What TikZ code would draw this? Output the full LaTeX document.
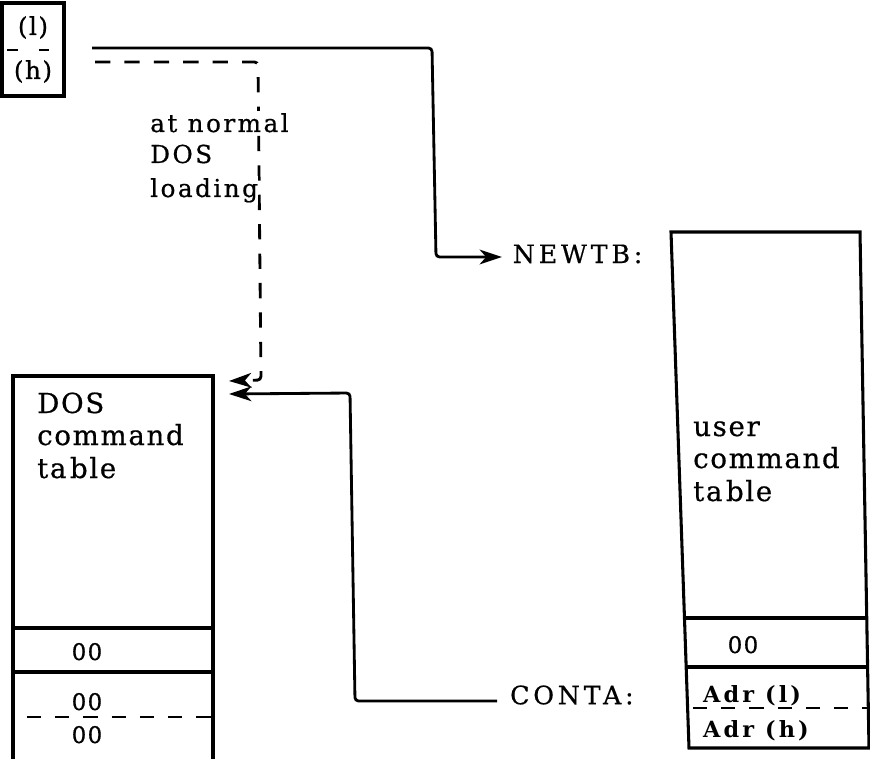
\documentclass[tikz,border=0pt]{standalone}
\usepackage{fontspec}
\setmainfont[LetterSpace=6,FakeBold=0.6]{DejaVu Serif}
\newfontfamily\smallf[LetterSpace=10,FakeBold=0.6]{DejaVu Serif}
\newfontfamily\labf[LetterSpace=15,FakeBold=0.6]{DejaVu Serif}
\newfontfamily\adrf[LetterSpace=14]{DejaVu Serif Bold}
\usetikzlibrary{arrows.meta}
\tikzset{
  line/.style={line width=2.6pt},
  conn/.style={line width=2.4pt, rounded corners=3pt, -{Stealth[length=19pt,width=12.5pt,inset=5.5pt]}},
  dashconn/.style={conn, dash pattern=on 13pt off 12pt},
  dashline/.style={line width=1.8pt, dash pattern=on 12pt off 12pt},
  txt/.style={inner sep=0pt, anchor=base west, font=\fontsize{23.5}{26}\selectfont},
  smalltxt/.style={inner sep=0pt, anchor=base west, font=\smallf\fontsize{21}{24}\selectfont, fill=white, inner ysep=2pt},
  num/.style={inner sep=0pt, anchor=base, font=\fontsize{19.5}{22}\selectfont},
  adr/.style={inner sep=0pt, anchor=base west, font=\adrf\fontsize{19}{22}\selectfont},
  label/.style={inner ysep=0pt, anchor=west, font=\labf\fontsize{21.5}{24}\selectfont}
}
\begin{document}
\begin{tikzpicture}[x=0.85pt,y=-0.85pt]
\useasboundingbox (0,0) rectangle (870,759);

% pointer box (l)/(h)
\draw[line] (2,3) rectangle (64,96);
\draw[line width=1.8pt, dash pattern=on 9pt off 18pt] (7,50) -- (53,50);
\node[num, font=\fontsize{21}{24}\selectfont] (lo) at (33,35) {(l)};
\node[num, font=\fontsize{21}{24}\selectfont] (hi) at (33,79) {(h)};

% DOS command table (left)
\draw[line] (13,376) rectangle (213,770);
\draw[line] (13,628) -- (213,628);
\draw[line] (13,672) -- (213,672);
\draw[dashline] (27,717) -- (212,717);
\node[txt] (d1) at (37,413) {DOS};
\node[txt] (d2) at (37,445) {command};
\node[txt] (d3) at (37,478) {ta\hspace{3pt}ble};
\node[num] (dz1) at (87,660) {00};
\node[num] (dz2) at (87,710) {00};
\node[num] (dz3) at (87,743) {00};

% user command table (right)
\draw[line] (671,232) -- (860,232) -- (869,748) -- (689,748) -- cycle;
\draw[line] (684.5,618) -- (866.7,618);
\draw[line] (686.2,667) -- (867.6,667);
\draw[dashline] (693,708) -- (872,708);
\node[txt] (u1) at (693,436) {user};
\node[txt] (u2) at (693,468) {command};
\node[txt] (u3) at (693,501) {ta\hspace{3pt}ble};
\node[num] (uz) at (743,653) {00};
\node[adr] (adl) at (703,702) {Adr (l)};
\node[adr] (adh) at (703,737) {Adr (h)};

% labels
\node[label, inner xsep=9pt] (newtb) at (502,254) {NEWTB:};
\node[label, inner xsep=11pt] (conta) at (497,695) {CONTA:};

% connectors
\coordinate (s1) at (92,48);
\coordinate (c1a) at (432,48);
\coordinate (c1b) at (436,257);
\draw[conn] (s1) -- (c1a) -- (c1b) -- (c1b -| newtb.west);

\coordinate (s2) at (95,62);
\coordinate (c2a) at (258,62);
\coordinate (c2b) at (261,380);
\coordinate (t2) at (229,381);
\draw[dashconn] (s2) -- (c2a) -- (c2b) -- (t2);

\coordinate (c3a) at (355,701);
\coordinate (c3b) at (350,393);
\coordinate (t3) at (229,394);
\draw[conn] (c3a -| conta.west) -- (c3a) -- (c3b) -- (t3);

% text over dashed line
\node[smalltxt] (n1) at (150,132) {at normal};
\node[smalltxt] (n2) at (150,163) {DOS};
\node[smalltxt] (n3) at (150,197) {loading};
\end{tikzpicture}
\end{document}
